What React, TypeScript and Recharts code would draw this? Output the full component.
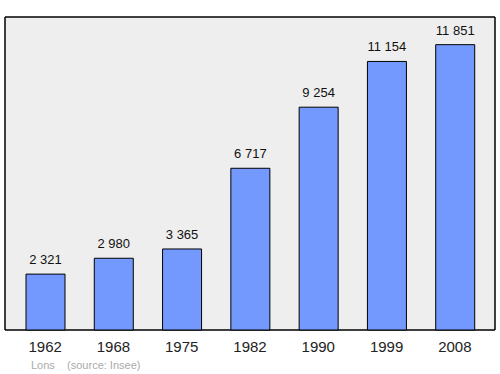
import React from "react";
import { BarChart, Bar, XAxis, YAxis, CartesianGrid, LabelList } from "recharts";

const years = ["1962", "1968", "1975", "1982", "1990", "1999", "2008"];
const population = [2321, 2980, 3365, 6717, 9254, 11154, 11851];

const data = years.map((year, i) => ({ year, population: population[i] }));

const font = '"Liberation Sans", Arial, sans-serif';

// french style thousands with nbsp so the label doesn't wrap: "11 851"
const fmt = (v: any) => String(v).replace(/\B(?=(\d{3})+(?!\d))/g, "\u00A0");

export default function App() {
  return (
    <div style={{ position: "absolute", left: 0, top: 0, width: 500, height: 374, background: "#fff", fontFamily: font }}>
      <BarChart
        width={500}
        height={374}
        data={data}
        margin={{ top: 17, right: 5, left: 5, bottom: 14 }}
      >
        <CartesianGrid
          fill="#eeeeee"
          stroke="#000"
          strokeWidth={1.5}
          horizontalCoordinatesGenerator={({ offset }: any) => [offset.top, offset.top + offset.height]}
          verticalCoordinatesGenerator={({ offset }: any) => [offset.left, offset.left + offset.width]}
        />
        <XAxis
          dataKey="year"
          height={30}
          axisLine={false}
          tickLine={false}
          tickMargin={5}
          padding={{ left: 6, right: 6 }}
          tick={{ fill: "#222", fontSize: 15, fontFamily: font }}
          interval={0}
        />
        <YAxis hide domain={[0, 13000]} />
        <Bar dataKey="population" fill="#7399ff" stroke="#000" strokeWidth={1} barSize={39} isAnimationActive={false}>
          <LabelList
            dataKey="population"
            position="top"
            offset={10}
            formatter={fmt}
            style={{ fill: "#111", fontSize: 13, fontFamily: font }}
          />
        </Bar>
      </BarChart>
      <div style={{ position: "absolute", left: 31, top: 359, fontSize: 11, color: "#aaaaaa", whiteSpace: "pre" }}>
        {"Lons    (source: Insee)"}
      </div>
    </div>
  );
}
